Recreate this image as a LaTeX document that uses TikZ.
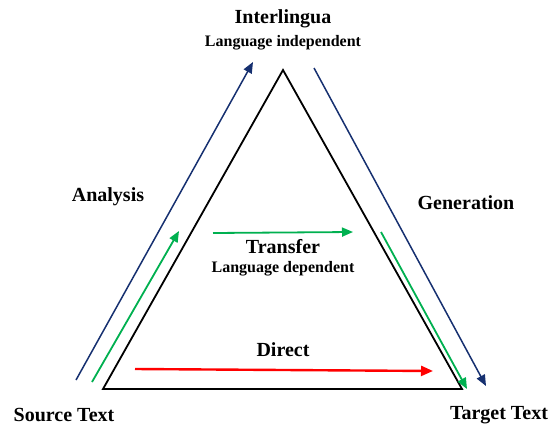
\documentclass[tikz,border=0pt]{standalone}
\usepackage{fontspec}
\setmainfont{Liberation Serif}
\usetikzlibrary{calc}
\usetikzlibrary{positioning}
\usetikzlibrary{arrows.meta}
\definecolor{navyline}{RGB}{22,48,112}
\definecolor{greenline}{RGB}{0,176,80}
\definecolor{redline}{RGB}{255,0,0}
\tikzset{
  bigtext/.style={font=\bfseries\fontsize{20}{22}\selectfont, inner sep=0pt},
  smalltext/.style={font=\bfseries\fontsize{16}{18}\selectfont, inner sep=0pt},
  navyarrow/.style={draw=navyline, line width=1.5pt, -{Triangle[length=11pt,width=9pt]}},
  greenarrow/.style={draw=greenline, line width=1.8pt, -{Triangle[length=11pt,width=9pt]}},
  redarrow/.style={draw=redline, line width=2.4pt, -{Triangle[length=12pt,width=10pt]}}
}

\begin{document}
\begin{tikzpicture}[x=1pt, y=-1pt]
  \useasboundingbox (0,0) rectangle (553,425);

  % triangle
  \coordinate (top) at (283,70);
  \coordinate (left) at (103,389);
  \coordinate (right) at (462,389);
  \draw [line width=1.8pt, line join=miter] (top) -- (right) -- (left) -- cycle;

  % labels
  \node [bigtext] (inter) at (283,19) {Interlingua};
  \node [smalltext, below=7pt of inter] (indep) {Language independent};
  \node [bigtext] (analysis) at (108,197) {Analysis};
  \node [bigtext] (generation) at (466,203) {Generation};
  \node [bigtext] (transfer) at (283,247) {Transfer};
  \node [smalltext, below=7pt of transfer] (dep) {Language dependent};
  \node [bigtext] (direct) at (283,350) {Direct};
  \node [bigtext] (source) at (64,415) {Source Text};
  \node [bigtext] (target) at (499,415) {Target Text};

  % end points of the arrows
  \coordinate (a1) at (76,380);
  \coordinate (a2) at (253,62);
  \coordinate (b1) at (92,382);
  \coordinate (b2) at (179,231);
  \coordinate (t1) at (213,233);
  \coordinate (t2) at (353,232);
  \coordinate (d1) at (135,369);
  \coordinate (d2) at (433,371);
  \coordinate (g1) at (381,232);
  \coordinate (g2) at (467,389);
  \coordinate (h1) at (314,68);
  \coordinate (h2) at (486,386);

  \draw [navyarrow] (a1) -- (a2);
  \draw [greenarrow] (b1) -- (b2);
  \draw [greenarrow] (t1) -- (t2);
  \draw [redarrow] (d1) -- (d2);
  \draw [greenarrow] (g1) -- (g2);
  \draw [navyarrow] (h1) -- (h2);
\end{tikzpicture}
\end{document}
